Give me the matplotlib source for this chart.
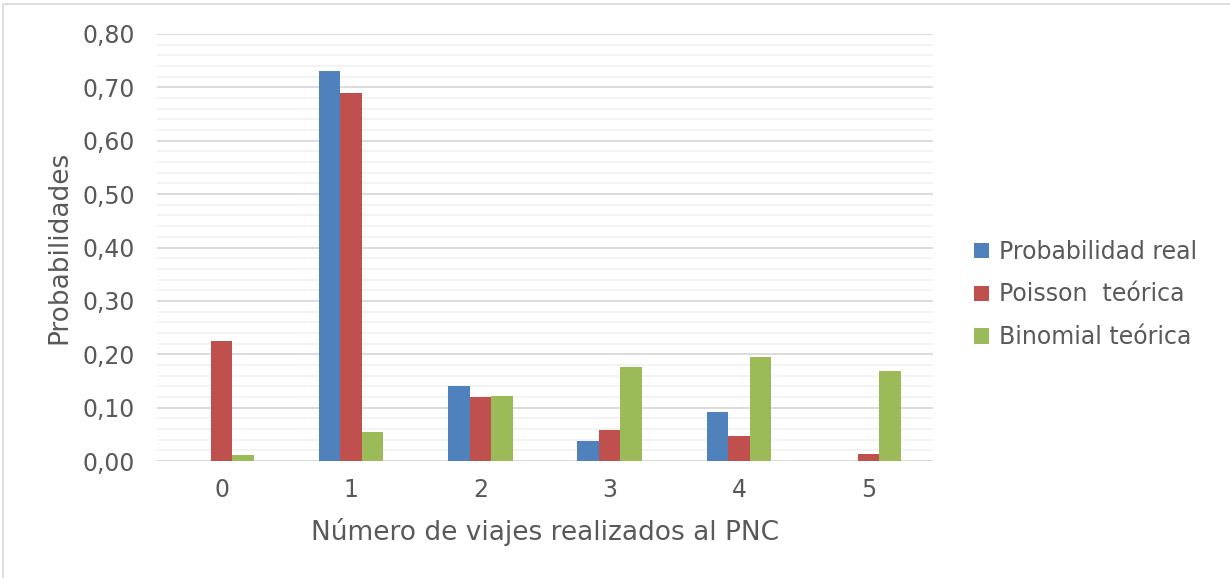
import numpy as np
import matplotlib
matplotlib.use("Agg")
import matplotlib.pyplot as plt
from matplotlib.patches import Rectangle

categories = ["0", "1", "2", "3", "4", "5"]
real = [0.0, 0.730, 0.140, 0.037, 0.091, 0.0]
poisson = [0.225, 0.690, 0.120, 0.059, 0.047, 0.013]
binomial = [0.012, 0.054, 0.122, 0.177, 0.194, 0.168]
series_names = ["Probabilidad real", "Poisson  teórica", "Binomial teórica"]

colors = ["#4F81BD", "#C0504D", "#9BBB59"]
text_col = "#595959"

fig = plt.figure(figsize=(12.3, 5.78), dpi=100)
fig.patch.set_facecolor("white")
ax = fig.add_axes([157 / 1230, 1 - 461 / 578, 776 / 1230, 427 / 578])

x = np.arange(len(categories))
w = 0.166
for i, (vals, c, name) in enumerate(zip([real, poisson, binomial], colors, series_names)):
    ax.bar(x + (i - 1) * w, vals, width=w, color=c, label=name, zorder=3)

ax.set_xlim(-0.5, len(categories) - 0.5)
ax.set_ylim(0, 0.8)
ax.set_yticks(np.arange(0, 0.81, 0.1))
ax.set_yticks(np.arange(0, 0.81, 0.02), minor=True)
ax.set_yticklabels([f"{v:.2f}".replace(".", ",") for v in np.arange(0, 0.81, 0.1)])
ax.set_xticks(x)
ax.set_xticklabels(categories)

ax.grid(axis="y", which="major", color="#D9D9D9", linewidth=1.3, zorder=0)
ax.grid(axis="y", which="minor", color="#F2F2F2", linewidth=1.3, zorder=0)
ax.tick_params(axis="both", which="both", length=0, colors=text_col, labelsize=17)
ax.tick_params(axis="y", pad=16)
ax.tick_params(axis="x", pad=12)
for s in ax.spines.values():
    s.set_visible(False)

ax.set_xlabel("Número de viajes realizados al PNC", fontsize=19, color=text_col, labelpad=12)
ax.set_ylabel("Probabilidades", fontsize=19, color=text_col, labelpad=7)

ax.legend(loc="center left", bbox_to_anchor=(1.026, 0.39), frameon=False,
          fontsize=17, labelcolor=text_col, handlelength=0.62, handleheight=0.62,
          handletextpad=0.4, labelspacing=0.8)

fig.patches.append(Rectangle((3 / 1230, -0.01), 1.02, 1 - 4 / 578 + 0.01,
                             transform=fig.transFigure, fill=False,
                             edgecolor="#D9D9D9", linewidth=1.2))

fig.savefig("out.png", dpi=100)
plt.close(fig)
